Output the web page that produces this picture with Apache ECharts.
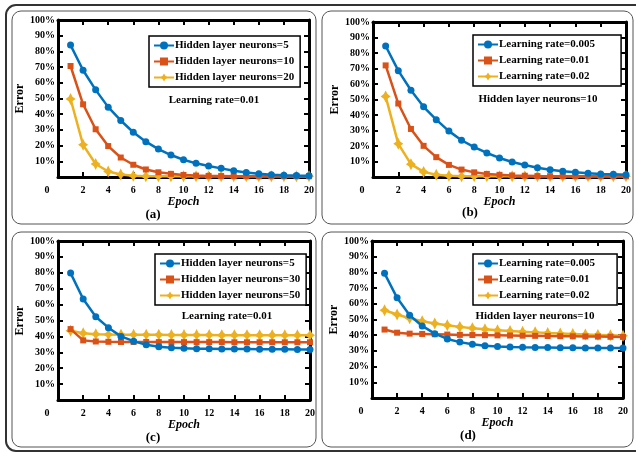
<!DOCTYPE html>
<html>
<head>
<meta charset="utf-8">
<script src="https://cdn.jsdelivr.net/npm/echarts@6/dist/echarts.min.js"></script>
<style>
  html, body { margin: 0; padding: 0; background: #fff; }
  #chart { width: 636px; height: 452px; }
</style>
</head>
<body>
<div id="chart"></div>
<script>
// Training epochs shared by all four panels
const epochs = [1, 2, 3, 4, 5, 6, 7, 8, 9, 10, 11, 12, 13, 14, 15, 16, 17, 18, 19, 20];

// (a) Varying hidden layer size, learning rate 0.01
const aNeurons5  = [84, 68, 55.5, 44.5, 36, 28.5, 22.5, 17.8, 14, 11, 8.7, 7, 5.5, 4, 2.8, 2, 1.5, 1.1, 0.9, 0.8];
const aNeurons10 = [70.7, 46.3, 30.4, 19.7, 12.4, 7.8, 4.8, 3, 2, 1.3, 0.9, 0.7, 0.6, 0.5, 0.5, 0.5, 0.5, 0.5, 0.5, 0.5];
const aNeurons20 = [49.7, 20.5, 8.3, 3.5, 1.6, 0.8, 0.5, 0.5, 0.5, 0.5, 0.5, 0.5, 0.5, 0.5, 0.5, 0.5, 0.5, 0.5, 0.5, 0.5];

// (b) Varying learning rate, 10 hidden neurons
const bRate005 = [84.5, 68.6, 56, 45.3, 37, 29.6, 23.7, 19.3, 15.5, 12.3, 9.7, 7.7, 6, 4.7, 3.7, 3, 2.4, 2, 1.7, 1.4];
const bRate01  = [72, 47.4, 31, 20.1, 12.8, 7.8, 4.8, 3, 2, 1.4, 1, 0.8, 0.6, 0.5, 0.5, 0.5, 0.5, 0.5, 0.5, 0.5];
const bRate02  = [52, 21.4, 8.3, 3.3, 1.5, 0.8, 0.5, 0.5, 0.5, 0.5, 0.5, 0.5, 0.5, 0.5, 0.5, 0.5, 0.5, 0.5, 0.5, 0.5];

// (c) Varying hidden layer size, learning rate 0.01
const cNeurons5  = [79.8, 63.5, 52.4, 45.5, 40, 37, 34.7, 33.5, 32.8, 32.5, 32.3, 32.2, 32.1, 32, 32, 31.9, 31.9, 31.9, 31.8, 31.8];
const cNeurons30 = [44.6, 37.5, 36.8, 36.6, 36.5, 36.5, 36.5, 36.4, 36.4, 36.4, 36.4, 36.4, 36.4, 36.3, 36.3, 36.3, 36.3, 36.3, 36.3, 36.3];
const cNeurons50 = [43.5, 42, 41.4, 41.2, 41.1, 41, 41, 41, 40.9, 40.9, 40.9, 40.9, 40.8, 40.8, 40.8, 40.8, 40.8, 40.7, 40.7, 40.7];

// (d) Varying learning rate, 10 hidden neurons
const dRate005 = [79.4, 63.8, 52.7, 45.9, 41, 37.6, 35.6, 34.2, 33.3, 32.8, 32.5, 32.3, 32.2, 32.1, 32, 32, 31.9, 31.9, 31.8, 31.8];
const dRate01  = [43.6, 41.6, 41, 40.8, 40.6, 40.4, 40.2, 40.1, 40, 39.9, 39.8, 39.7, 39.6, 39.5, 39.4, 39.3, 39.2, 39.1, 39, 38.9];
const dRate02  = [55.9, 53.2, 50.8, 48.9, 47.5, 46.3, 45.3, 44.5, 43.8, 43.2, 42.7, 42.2, 41.8, 41.4, 41.1, 40.8, 40.5, 40.2, 39.9, 39.6];

const neuronNamesAC = ['Hidden layer neurons=5', 'Hidden layer neurons=10', 'Hidden layer neurons=20'];
const neuronNamesC  = ['Hidden layer neurons=5', 'Hidden layer neurons=30', 'Hidden layer neurons=50'];
const rateNames     = ['Learning rate=0.005', 'Learning rate=0.01', 'Learning rate=0.02'];
const panelLetters  = ['(a)', '(b)', '(c)', '(d)'];
const panelNotes    = ['Learning rate=0.01', 'Hidden layer neurons=10', 'Learning rate=0.01', 'Hidden layer neurons=10'];

const FONT = '"Liberation Serif", "Times New Roman", serif';
const COLORS = ['#0072BD', '#D95319', '#EDB120'];
const STAR = 'path://M0,-10 L3.8,-3.8 L10,0 L3.8,3.8 L0,10 L-3.8,3.8 L-10,0 L-3.8,-3.8 Z';
const SYMBOLS = ['circle', 'rect', STAR];
const SYMBOL_SIZES = [7, 6, [10, 12]];

// Panel layout: plot box, legend position, annotation position, frame
const panels = [
  { grid: { left: 58, top: 20, width: 251, height: 157 }, legend: { left: 149, top: 36, padRight: 6 },
    note: [214, 100], letter: [153, 215], frame: [12, 11, 304, 213],
    names: neuronNamesAC, values: [aNeurons5, aNeurons10, aNeurons20] },
  { grid: { left: 373, top: 22, width: 253, height: 155 }, legend: { left: 473, top: 35, padRight: 26 },
    note: [538, 99], letter: [470, 213], frame: [322, 11, 311, 213],
    names: rateNames, values: [bRate005, bRate01, bRate02] },
  { grid: { left: 58, top: 241, width: 252, height: 159 }, legend: { left: 155, top: 254, padRight: 6 },
    note: [227, 316], letter: [153, 438], frame: [12, 232, 304, 215],
    names: neuronNamesC, values: [cNeurons5, cNeurons30, cNeurons50] },
  { grid: { left: 372, top: 241, width: 251, height: 157 }, legend: { left: 473, top: 254, padRight: 22 },
    note: [535, 316], letter: [468, 436], frame: [322, 232, 311, 215],
    names: rateNames, values: [dRate005, dRate01, dRate02] }
];

const boxLine = { show: true, onZero: false, lineStyle: { color: '#000', width: 3 } };
const innerTick = { show: true, inside: true, length: 5, lineStyle: { color: '#000', width: 2 } };
const tickFont = { fontFamily: FONT, fontWeight: 'bold', fontSize: 10, color: '#000' };

const grids = [], xAxes = [], yAxes = [], series = [], legends = [], graphics = [];

panels.forEach((p, i) => {
  grids.push(Object.assign({ containLabel: false }, p.grid));

  // bottom axis with labels, top axis as mirrored tick frame
  xAxes.push({
    gridIndex: i, type: 'value', min: 0, max: 20, interval: 2, position: 'bottom',
    axisLine: boxLine, axisTick: innerTick, splitLine: { show: false },
    axisLabel: Object.assign({}, tickFont, {
      margin: 8,
      formatter: v => (v === 0 ? '{z|0}' : String(v)),
      rich: { z: Object.assign({}, tickFont, { padding: [0, 22, 0, 0] }) }
    }),
    name: 'Epoch', nameLocation: 'middle', nameGap: 19,
    nameTextStyle: { fontFamily: FONT, fontWeight: 'bold', fontStyle: 'italic', fontSize: 12, color: '#000' }
  });
  xAxes.push({
    gridIndex: i, type: 'value', min: 0, max: 20, interval: 2, position: 'top',
    axisLine: boxLine, axisTick: innerTick, splitLine: { show: false }, axisLabel: { show: false }
  });

  yAxes.push({
    gridIndex: i, type: 'value', min: 0, max: 100, interval: 10, position: 'left',
    axisLine: boxLine, axisTick: innerTick, splitLine: { show: false },
    axisLabel: Object.assign({}, tickFont, { margin: 3, formatter: v => (v === 0 ? '' : v + '%') }),
    name: 'Error', nameLocation: 'middle', nameGap: 27, nameRotate: 90,
    nameTextStyle: { fontFamily: FONT, fontWeight: 'bold', fontSize: 12, color: '#000' }
  });
  yAxes.push({
    gridIndex: i, type: 'value', min: 0, max: 100, interval: 10, position: 'right',
    axisLine: boxLine, axisTick: innerTick, splitLine: { show: false }, axisLabel: { show: false }
  });

  p.values.forEach((vals, k) => {
    series.push({
      type: 'line', name: p.names[k], xAxisIndex: 2 * i, yAxisIndex: 2 * i,
      data: epochs.map((e, j) => [e, vals[j]]),
      symbol: SYMBOLS[k], symbolSize: SYMBOL_SIZES[k], showAllSymbol: true,
      color: COLORS[k], lineStyle: { width: 2.5, color: COLORS[k] },
      itemStyle: { color: COLORS[k] }, z: 10 - k, animation: false
    });
  });

  legends.push({
    show: true, data: p.names, orient: 'vertical', left: p.legend.left, top: p.legend.top,
    padding: [4, p.legend.padRight, 4, 4], itemGap: 5, itemWidth: 20, itemHeight: 10,
    borderColor: '#000', borderWidth: 1.5, backgroundColor: '#fff', selectedMode: false,
    textStyle: { fontFamily: FONT, fontWeight: 'bold', fontSize: 11, color: '#000', padding: [0, 0, 0, -4] }
  });

  const f = p.frame;
  graphics.push({
    type: 'rect', shape: { x: f[0], y: f[1], width: f[2], height: f[3], r: 9 },
    style: { fill: null, stroke: '#555', lineWidth: 1 }, z: -5, silent: true
  });
  graphics.push({
    type: 'text', x: p.note[0], y: p.note[1],
    style: { text: panelNotes[i], align: 'center', verticalAlign: 'middle',
             font: 'bold 11px ' + FONT, fill: '#000' }, z: 20
  });
  graphics.push({
    type: 'text', x: p.letter[0], y: p.letter[1],
    style: { text: panelLetters[i], align: 'center', verticalAlign: 'middle',
             font: 'bold 13px ' + FONT, fill: '#000' }, z: 20
  });
});

// outer frame around the whole figure
graphics.push({
  type: 'rect', shape: { x: 6, y: 5, width: 640, height: 446, r: 10 },
  style: { fill: null, stroke: '#333', lineWidth: 2 }, z: -6, silent: true
});

const chart = echarts.init(document.getElementById('chart'), null, { renderer: 'canvas' });
chart.setOption({
  animation: false,
  backgroundColor: '#fff',
  grid: grids, xAxis: xAxes, yAxis: yAxes,
  legend: legends, series: series, graphic: graphics
});
</script>
</body>
</html>
